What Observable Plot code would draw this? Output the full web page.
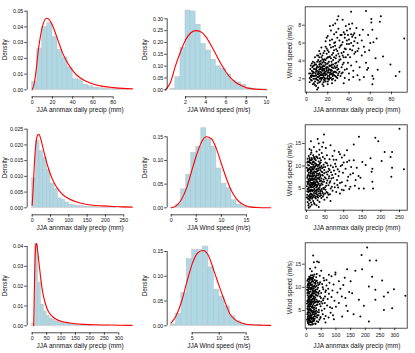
<!DOCTYPE html>
<html>
<head>
<meta charset="utf-8">
<script src="https://cdn.jsdelivr.net/npm/d3@7"></script>
<script src="https://cdn.jsdelivr.net/npm/@observablehq/plot@0.6"></script>
<style>
  html, body { margin: 0; padding: 0; background: #fff; }
  #chart { position: relative; width: 415px; height: 353px; overflow: hidden; }
  .panel { position: absolute; width: 138px; height: 118px; }
  .panel svg { overflow: visible; }
</style>
</head>
<body>
<div id="chart"></div>
<script>
// ---------------- Labels ----------------
const precipLabel = "JJA annmax daily precip (mm)";
const windLabel = "JJA Wind speed (m/s)";
const densityLabel = "Density";
const windAxisLabel = "Wind speed (m/s)";

// ---------------- Row 1 ----------------
const r1PrecipBinStart = 0, r1PrecipBinWidth = 5;
const r1PrecipDensity = [0.0049, 0.026, 0.0398, 0.0424, 0.0335, 0.0254, 0.0205, 0.0142, 0.0068, 0.0062, 0.0032, 0.0022, 0.0014, 0.0011, 0.0007, 0.0005, 0.0003, 0.0002, 0.0001];
const r1PrecipFitX = [0, 2, 4, 6, 8, 10, 12, 14, 16, 18, 20, 23, 26, 30, 35, 40, 45, 50, 55, 60, 70, 80, 90, 99];
const r1PrecipFitY = [0.0, 0.004, 0.013, 0.025, 0.0335, 0.040, 0.044, 0.0455, 0.0452, 0.0435, 0.041, 0.036, 0.0305, 0.0235, 0.017, 0.0122, 0.0088, 0.0065, 0.0049, 0.0037, 0.0022, 0.0014, 0.0009, 0.0006];
const r1PrecipXTicks = [0, 20, 40, 60, 80];
const r1PrecipYTicks = [0, 0.01, 0.02, 0.03, 0.04, 0.05];

const r1WindBinStart = 0.5, r1WindBinWidth = 0.5;
const r1WindDensity = [0.004, 0.0535, 0.176, 0.335, 0.331, 0.275, 0.194, 0.166, 0.127, 0.099, 0.089, 0.065, 0.039, 0.031, 0.021, 0.0085, 0.005, 0.003, 0.002];
const r1WindFitX = [0, 0.5, 1, 1.5, 2, 2.5, 3, 3.5, 4, 4.5, 5, 5.5, 6, 6.5, 7, 7.5, 8, 8.5, 9, 10];
const r1WindFitY = [0.0, 0.03, 0.10, 0.16, 0.21, 0.24, 0.25, 0.245, 0.225, 0.19, 0.15, 0.11, 0.075, 0.048, 0.03, 0.018, 0.009, 0.005, 0.002, 0.0];
const r1WindXTicks = [2, 4, 6, 8, 10];
const r1WindYTicks = [0, 0.05, 0.10, 0.15, 0.20, 0.25, 0.30];

const r1Scatter = [
  3,2.1, 4,2.6, 5,1.8, 5,2.9, 6,2.3, 6,3.4, 7,1.5, 7,2.7, 8,2.0, 8,3.1, 9,2.4, 9,1.2, 9,3.6, 10,2.9, 10,1.9,
  11,2.2, 11,3.3, 11,4.1, 12,1.6, 12,2.6, 12,3.0, 13,2.1, 13,3.7, 13,2.8, 14,1.9, 14,2.4, 14,3.3, 14,4.4, 15,2.9,
  15,1.4, 15,3.8, 16,2.2, 16,2.6, 16,3.5, 17,1.8, 17,3.1, 17,4.2, 18,2.5, 18,2.0, 18,3.6, 19,2.9, 19,4.8, 20,2.3,
  20,3.3, 20,1.7, 21,2.7, 21,3.9, 22,2.1, 22,3.0, 22,4.5, 23,2.5, 23,3.5, 24,1.9, 24,2.9, 25,3.2, 25,4.1, 26,2.4,
  26,5.2, 27,2.8, 27,3.7, 28,2.2, 28,4.6, 29,3.0, 30,2.6, 30,3.9, 31,5.5, 32,2.3, 32,4.2, 33,3.3, 34,2.7, 35,3.8,
  35,5.0, 36,2.1, 37,4.4, 38,3.1, 40,2.6, 40,5.9, 42,3.5, 44,2.9, 45,4.8,
  4.5,2.2, 5.5,3.3, 6.5,2.0, 7.5,3.8, 8.5,2.6, 9.5,3.2, 10.5,2.5, 10.5,1.5, 11.5,2.8, 12.5,3.4, 12.5,2.0, 13.5,2.5,
  13.5,4.0, 14.5,3.0, 15.5,2.4, 15.5,3.4, 16.5,2.9, 16.5,1.9, 17.5,2.4, 17.5,3.8, 18.5,3.2, 19.5,2.1, 19.5,3.7,
  20.5,2.9, 21.5,2.3, 21.5,3.5, 22.5,2.7, 23.5,3.9, 24.5,2.3, 25.5,2.7, 26.5,3.4, 27.5,4.3, 28.5,3.3, 29.5,2.4,
  3.5,3.1, 2.5,2.6, 4,1.9, 6,3.9, 8,4.4, 10,4.6, 12,5.1, 14,5.5, 16,4.9, 18,5.6, 20,5.2, 11,1.0, 8,1.3, 6,1.4,
  10,0.8, 16,1.2, 20,1.4, 24,1.5, 27,1.8,
  7,2.3, 9,2.8, 11,2.7, 13,3.2, 15,2.1, 17,2.7, 19,3.3, 21,2.0, 23,3.0, 25,2.5, 12,3.9, 16,4.1, 20,4.4, 24,3.6,
  3,1.6, 4,3.5, 5,2.4, 6,2.8, 7,3.1, 8,2.3, 8,3.6, 9,2.0, 9,3.0, 10,2.2, 10,3.4, 10,3.9, 11,2.5, 11,1.8, 12,2.3,
  12,3.6, 12,4.4, 13,1.7, 13,2.4, 13,3.1, 14,2.1, 14,2.7, 14,3.6, 15,2.5, 15,3.2, 15,4.2, 16,1.6, 16,3.1, 16,3.9,
  17,2.1, 17,3.4, 17,2.6, 18,1.7, 18,2.8, 18,4.1, 19,2.5, 19,3.1, 19,4.3, 20,2.0, 20,2.7, 20,3.7, 21,1.9, 21,3.1,
  21,4.4, 22,2.5, 22,3.4, 23,2.1, 23,2.9, 23,4.3, 24,2.6, 24,3.3, 24,4.7, 25,2.0, 25,3.6, 26,2.8, 26,4.4, 27,2.3,
  27,3.2, 28,2.7, 28,3.8, 29,2.1, 29,3.5, 30,3.1, 31,2.8, 31,4.1, 33,2.6, 34,3.6, 34,4.6, 36,3.0, 6,2.6, 7,3.5,
  5,3.7, 4,2.3, 8,1.7, 11,4.6, 13,4.8, 15,4.6, 17,5.1, 19,5.4, 21,5.0, 23,5.5, 25,4.9, 27,5.7, 29,5.1, 31,4.5,
  33,5.8, 35,4.4, 37,5.3, 39,3.8, 41,4.4, 43,5.2, 22,6.3, 26,6.0, 32,6.9, 19,6.6, 28,7.2, 36,7.0, 44,6.9, 48,5.1,
  38,6.3, 42,7.0,
  18,6.2, 20,6.8, 22,5.8, 23,7.4, 24,6.4, 25,5.6, 26,7.0, 27,6.1, 28,5.3, 29,6.6, 30,7.6, 30,4.8, 31,6.3, 32,5.7,
  33,6.9, 33,4.9, 34,6.1, 35,7.2, 36,5.4, 36,6.6, 37,7.9, 38,5.9, 39,4.7, 39,6.9, 40,6.4, 41,7.6, 41,5.3, 42,6.0,
  43,8.2, 43,6.7, 44,5.7, 45,7.1, 45,6.2, 46,5.0, 46,6.6, 47,7.7, 48,6.0, 49,5.4, 50,6.9, 52,6.3, 53,7.5, 54,5.6,
  34,8.6, 30,9.0, 27,8.2, 25,8.0, 38,7.4, 40,8.1, 22,7.9, 29,8.6,
  42,9.5, 56,9.6, 61,8.7, 61,8.3, 70,9.0, 69,8.4, 62,7.5, 58,6.9, 66,6.5, 63,6.1, 59,5.2, 65,4.3, 56,3.8, 57,3.0,
  62,2.3, 63,2.0, 62,1.4, 79,3.6, 87.5,2.8, 84,2.3, 92,6.5, 54,2.2, 50,3.3, 48,2.4, 52,4.6, 47,3.9, 44,2.2, 58,3.2,
  50,1.9, 35,1.5, 40,1.9, 55,5.0, 60,6.0, 72,4.5, 67,3.0
];
const r1ScatterXTicks = [0, 20, 40, 60, 80];
const r1ScatterYTicks = [2, 4, 6, 8];

// ---------------- Row 2 ----------------
const r2PrecipBinStart = 0, r2PrecipBinWidth = 10;
const r2PrecipDensity = [0.0093, 0.0212, 0.0181, 0.0160, 0.0120, 0.0077, 0.0059, 0.0030, 0.0026, 0.0017, 0.0010, 0.0008, 0.0006, 0.0005, 0.0004, 0.0003, 0.0002, 0.0002, 0.0001, 0.0001, 0.0001, 0.0001, 0.0001, 0.0, 0.0001, 0.0001];
const r2PrecipFitX = [0, 3, 6, 9, 12, 15, 18, 21, 25, 30, 35, 40, 50, 60, 70, 80, 90, 100, 120, 140, 160, 190, 220, 250, 273];
const r2PrecipFitY = [0.0008, 0.007, 0.014, 0.019, 0.022, 0.0232, 0.0234, 0.0228, 0.0212, 0.0188, 0.0164, 0.0142, 0.0106, 0.0079, 0.0060, 0.0046, 0.0036, 0.0029, 0.0019, 0.0013, 0.0009, 0.0006, 0.0004, 0.0003, 0.0002];
const r2PrecipXTicks = [0, 50, 100, 150, 200, 250];
const r2PrecipYTicks = [0, 0.005, 0.010, 0.015, 0.020, 0.025];

const r2WindBinStart = 1, r2WindBinWidth = 1;
const r2WindDensity = [0.007, 0.039, 0.070, 0.116, 0.129, 0.168, 0.145, 0.129, 0.083, 0.051, 0.041, 0.016, 0.007, 0.003, 0.002, 0.001, 0.0005];
const r2WindFitX = [0, 1, 2, 3, 4, 5, 6, 7, 8, 9, 10, 11, 12, 13, 14, 15, 16, 17, 18, 19.8];
const r2WindFitY = [0, 0.004, 0.017, 0.040, 0.075, 0.110, 0.138, 0.150, 0.146, 0.125, 0.093, 0.062, 0.036, 0.019, 0.009, 0.004, 0.0015, 0.0006, 0.0002, 0.0];
const r2WindXTicks = [0, 5, 10, 15];
const r2WindYTicks = [0, 0.05, 0.10, 0.15];

const r2Scatter = [
  3,2.0, 6,1.6, 9,2.4, 12,1.9, 15,2.7, 18,2.2, 22,1.5, 25,2.8, 30,2.4, 35,2.0, 40,2.9, 48,2.5, 55,3.0, 8,3.0, 4,2.7,
  2,3.6, 5,4.2, 7,3.4, 10,4.6, 13,3.8, 16,4.4, 19,3.3, 21,4.9, 24,3.9, 27,4.5, 31,3.5, 34,4.8, 38,3.9, 42,4.4, 46,3.6,
  51,4.7, 57,4.0, 63,3.7, 70,4.5, 80,4.2, 90,3.9, 11,3.2, 29,3.1, 44,3.2,
  1,5.5, 4,6.3, 6,5.2, 9,6.8, 11,5.7, 14,6.2, 17,5.3, 20,6.6, 23,5.8, 26,6.9, 28,5.4, 32,6.1, 36,5.6, 39,6.7, 43,5.9,
  47,6.5, 50,5.3, 54,6.2, 59,5.7, 64,6.6, 68,5.4, 75,6.1, 83,5.8, 95,6.4, 105,5.6, 7,6.0, 16,6.9, 30,6.4, 45,5.1,
  2,7.4, 5,8.1, 8,7.2, 10,8.6, 13,7.7, 15,8.4, 18,7.1, 21,8.0, 24,7.5, 27,8.7, 29,7.3, 33,8.2, 37,7.6, 40,8.8, 44,7.9,
  48,8.4, 52,7.2, 56,8.1, 61,7.7, 66,8.6, 72,7.4, 78,8.2, 86,7.8, 98,8.5, 112,7.6, 3,8.9, 12,9.0, 26,7.9, 35,7.0,
  1,9.6, 4,10.2, 7,9.3, 9,10.7, 12,9.8, 15,10.4, 17,9.5, 20,10.9, 23,9.9, 25,10.5, 28,9.4, 31,10.2, 35,9.7, 38,10.8,
  42,9.5, 46,10.3, 50,9.8, 55,10.6, 60,9.4, 65,10.1, 71,9.7, 77,10.5, 84,9.3, 92,10.0, 120,9.8, 6,10.9, 19,9.2, 33,11.0,
  3,11.6, 6,12.2, 9,11.4, 11,12.6, 14,11.8, 18,12.4, 22,11.5, 26,12.1, 30,11.7, 34,12.5, 39,11.3, 44,12.0, 49,11.6,
  55,12.4, 62,11.5, 70,12.2, 80,11.4, 95,11.9, 13,13.0, 27,13.2, 41,12.9,
  8,13.8, 20,14.2, 35,13.6, 52,14.0, 75,13.4, 30,16.0, 45,15.2, 12,15.5,
  5,1.2, 10,1.0, 14,1.4, 20,1.8, 27,1.3,
  5,5.0, 8,4.5, 10,7.8, 13,9.0, 15,5.9, 18,9.9, 20,4.0, 22,7.2, 24,10.0, 26,5.2, 28,8.3, 30,9.9, 32,5.0, 34,7.4,
  36,10.6, 38,4.6, 40,6.1, 16,3.6, 3,4.9, 7,11.0, 11,3.9, 19,7.8, 25,6.4, 31,7.9, 37,9.1, 43,8.6, 21,11.8, 14,7.0,
  9,5.8, 4,9.3, 2,6.5, 17,10.8, 27,4.1, 23,3.0, 36,3.3, 48,9.1, 53,5.6, 58,8.8, 62,6.3, 67,7.2, 74,9.0, 82,6.9,
  88,8.8, 100,10.8, 110,6.8, 125,8.4, 135,9.6, 140,7.8, 102,12.4, 115,11.2, 90,12.6, 85,5.2, 95,4.7, 115,4.9, 130,5.6,
  1,3.0, 2,4.4, 3,6.0, 3,7.8, 2,10.8, 4,11.0, 5,3.2, 5,7.0, 5,9.1, 6,4.8, 6,6.6, 6,8.5, 7,2.5, 7,4.4, 7,7.9, 7,10.1,
  8,5.6, 8,9.5, 8,11.8, 9,3.6, 9,7.6, 10,2.9, 10,5.2, 10,6.4, 10,9.2, 10,11.2, 11,4.4, 11,7.1, 11,8.3, 12,3.1, 12,5.5,
  12,6.9, 12,10.6, 13,4.7, 13,6.1, 13,8.8, 13,11.3, 14,3.3, 14,5.3, 14,9.6, 15,4.6, 15,7.3, 15,11.5, 16,5.7, 16,8.0,
  16,9.2, 17,3.0, 17,6.3, 17,7.6, 18,4.6, 18,5.9, 18,8.6, 18,11.0, 19,6.1, 19,10.3, 20,3.5, 20,5.4, 20,8.4, 20,12.0,
  21,6.2, 21,9.6, 22,4.4, 22,5.6, 22,8.8, 23,7.0, 23,10.6, 24,4.5, 24,6.0, 24,8.6, 25,3.3, 25,7.6, 25,11.3, 26,4.6,
  26,9.3, 27,5.8, 27,10.2, 28,3.7, 28,6.6, 28,12.0, 29,4.8, 29,8.9, 30,5.7, 30,7.2, 31,3.0, 31,9.0, 32,4.4, 32,7.2,
  33,6.0, 33,9.4, 34,3.9, 34,10.3, 35,5.2, 35,8.4, 36,6.6, 36,11.7, 37,4.3, 37,8.0, 38,5.7, 38,9.6, 39,3.5, 40,7.2,
  40,10.0, 41,4.9, 42,8.0, 43,6.5, 44,4.0, 45,9.7, 46,7.0, 47,4.9, 49,7.5, 50,3.9, 51,10.8, 53,8.6, 54,4.2, 56,6.8,
  57,10.1, 59,3.6, 60,7.3, 62,9.1, 65,5.0, 69,8.0, 73,11.4, 76,5.3, 79,9.9, 90,6.2,
  250,18.3, 262,9.3, 210,13.1, 230,13.1, 226,12.0, 230,9.6, 228,7.6, 202,11.1, 185,16.3, 193,15.5, 172,11.7,
  177,9.4, 175,8.7, 177,6.5, 179,5.0, 141,16.5, 127,14.8, 109,13.5, 47,17.0, 33,15.0, 13,13.5, 22,11.7, 42,14.3,
  64.5,14.6, 87,13.1, 105,9.4, 118,8.1, 132,6.9, 141,5.0, 154,5.0, 145,7.4, 118,5.4, 100,4.6, 109,10.9, 150,10.9,
  159,10.2, 127,11.3, 96,10.2, 64.5,2.2, 33,0.9, 6,0.7
];
const r2ScatterXTicks = [0, 50, 100, 150, 200, 250];
const r2ScatterYTicks = [5, 10, 15];

// ---------------- Row 3 ----------------
const r3PrecipBinStart = 0, r3PrecipBinWidth = 10;
const r3PrecipDensity = [0.001, 0.0413, 0.0218, 0.0106, 0.0072, 0.005, 0.0037, 0.003, 0.0022, 0.0018, 0.002, 0.0013, 0.0013, 0.001, 0.0008, 0.0005, 0.0004, 0.0003, 0.0002, 0.0002, 0.0001, 0.0001, 0.0001, 0.0001, 0.0001, 0.0001, 0.0001, 0.0, 0.0, 0.0001, 0.0, 0.0, 0.0001];
const r3PrecipFitX = [5, 6, 8, 10, 12, 14, 16, 18, 20, 24, 28, 32, 36, 40, 46, 52, 60, 70, 85, 100, 125, 150, 180, 220, 260, 300, 346];
const r3PrecipFitY = [0, 0.006, 0.022, 0.034, 0.040, 0.0415, 0.041, 0.039, 0.0365, 0.031, 0.026, 0.021, 0.0172, 0.0143, 0.011, 0.0085, 0.0063, 0.0047, 0.0032, 0.0023, 0.0015, 0.0010, 0.0007, 0.0005, 0.0004, 0.0003, 0.0002];
const r3PrecipXTicks = [0, 50, 100, 150, 200, 250, 300];
const r3PrecipYTicks = [0, 0.01, 0.02, 0.03, 0.04];

const r3WindBinStart = 1, r3WindBinWidth = 1;
const r3WindDensity = [0.003, 0.024, 0.066, 0.135, 0.153, 0.153, 0.160, 0.118, 0.073, 0.059, 0.039, 0.019, 0.009, 0.004, 0.002, 0.001, 0.001, 0.0005];
const r3WindFitX = [1.1, 2, 3, 4, 5, 6, 7, 8, 9, 10, 11, 12, 13, 14, 15, 16, 17, 18, 19.5];
const r3WindFitY = [0.006, 0.02, 0.048, 0.088, 0.125, 0.147, 0.152, 0.142, 0.112, 0.080, 0.050, 0.024, 0.012, 0.006, 0.003, 0.002, 0.0015, 0.001, 0.0008];
const r3WindXTicks = [5, 10, 15];
const r3WindYTicks = [0, 0.05, 0.10, 0.15];

const r3Scatter = [
  5,2.3, 8,2.0, 11,2.6, 14,1.9, 18,2.4, 22,2.1, 26,2.8, 30,2.2, 35,2.7, 40,2.5,
  4,3.4, 7,3.9, 10,3.1, 13,4.4, 16,3.6, 19,4.1, 22,3.3, 25,4.6, 28,3.8, 32,4.3, 36,3.5, 41,4.0, 47,3.4, 55,4.2, 65,3.8,
  3,5.4, 6,4.9, 9,6.1, 12,5.3, 15,6.6, 17,5.0, 20,5.8, 23,6.4, 26,5.2, 29,6.0, 33,5.5, 37,6.3, 42,5.1, 48,5.9, 54,6.5,
  61,5.4, 70,6.1, 80,5.7,
  4,7.2, 7,6.8, 10,7.6, 13,7.0, 16,7.9, 18,6.9, 21,7.5, 24,8.1, 27,7.1, 30,7.8, 34,7.3, 38,8.2, 43,7.0, 49,7.7, 56,7.2,
  63,8.0, 72,7.5, 85,7.9, 95,7.1,
  3,8.8, 6,9.4, 9,8.6, 11,9.9, 14,9.1, 17,8.5, 19,9.7, 22,9.0, 25,9.8, 28,8.7, 31,9.5, 35,8.9, 39,9.9, 44,9.2, 50,8.8,
  57,9.6, 64,9.0, 74,9.7, 88,9.3, 105,8.9,
  5,10.6, 8,11.2, 11,10.4, 14,11.0, 16,11.7, 19,10.6, 22,11.3, 25,10.2, 28,11.6, 31,10.8, 35,11.4, 40,10.5, 46,11.1,
  53,10.7, 60,11.5, 68,10.4, 78,11.0, 92,10.6, 110,11.3,
  9,12.3, 15,12.6, 21,12.1, 27,12.8, 33,12.2, 45,12.5, 58,12.0, 18,13.5, 12,14.0, 30,14.3, 50,13.6, 25,15.4,
  6,3.0, 9,4.6, 12,3.5, 15,5.1, 18,3.1, 20,6.9, 23,4.9, 26,7.9, 29,4.8, 32,9.0, 7,8.0, 10,5.5, 13,8.3, 16,9.6, 19,5.6,
  22,10.2, 24,3.6, 27,6.7, 30,10.1, 33,6.9, 36,4.7, 8,10.0, 11,6.6, 14,4.0, 17,7.3, 20,8.8, 23,2.8, 26,11.0, 29,9.2,
  34,10.3, 38,7.0, 41,8.6, 45,6.4, 52,5.0, 58,7.6, 66,9.3, 76,8.6, 82,4.5, 100,5.8, 115,9.7, 125,10.5, 135,6.0,
  145,9.0, 130,12.1, 150,11.3, 160,4.2, 120,8.0, 140,4.9, 85,12.4, 98,12.8, 6,6.0, 4,4.5, 3,10.0, 5,11.7, 9,2.9,
  12,12.0, 16,2.6, 21,12.6, 19,2.0, 24,12.4, 35,12.9, 44,3.0, 60,3.2, 75,3.5, 90,4.0,
  2,3.0, 2,6.5, 2,9.5, 3,4.2, 3,7.0, 3,11.4, 4,2.6, 4,5.8, 4,8.3, 4,10.4, 5,3.7, 5,6.9, 5,9.0, 6,2.4, 6,5.2, 6,7.7,
  6,10.9, 7,4.5, 7,6.3, 7,9.7, 7,11.8, 8,3.3, 8,5.8, 8,7.4, 8,8.9, 9,4.0, 9,7.1, 9,10.4, 9,11.9, 10,2.4, 10,6.6,
  10,9.0, 10,10.9, 11,3.8, 11,5.1, 11,8.0, 11,11.6, 12,2.8, 12,6.4, 12,7.9, 12,9.6, 13,3.3, 13,5.9, 13,10.7, 14,2.5,
  14,6.3, 14,8.0, 14,12.2, 15,3.9, 15,7.4, 15,9.8, 16,4.8, 16,6.4, 16,10.5, 17,3.4, 17,5.8, 17,9.9, 17,12.0, 18,4.9,
  18,8.2, 18,11.2, 19,3.4, 19,7.0, 19,8.3, 20,4.5, 20,10.2, 20,11.6, 21,2.6, 21,6.0, 21,9.3, 22,4.2, 22,7.6, 22,11.9,
  23,5.6, 23,8.6, 24,6.9, 24,9.4, 25,3.1, 25,7.6, 26,4.2, 26,9.1, 27,5.6, 27,10.4, 28,3.2, 28,7.5, 29,11.0, 30,4.4,
  30,6.8, 31,8.4, 32,3.7, 32,11.3, 33,5.0, 34,8.3, 35,6.2, 36,9.6, 37,4.0, 38,11.0, 39,6.8, 40,8.9, 42,4.6, 44,10.7,
  46,8.0, 48,3.6, 50,6.9, 55,10.0, 62,6.6, 68,11.6,
  206,18.6, 187,17.0, 215,15.8, 237,15.8, 22.6,16.9, 36,15.6, 42,15.4, 166,13.6, 189,13.9, 138,13.9, 98.5,13.2,
  76,12.7, 297,9.6, 336,8.2, 277,8.9, 263,8.0, 234,7.3, 212,10.2, 234,9.5, 257,11.5, 223,12.3, 291,5.5, 263,5.1,
  212,2.6, 183,3.7, 195,6.0, 178,7.3, 155,8.7, 132,7.7, 110,6.6, 87,5.5, 121,3.7, 93,3.1, 64.5,2.4, 30.5,2.1
];
const r3ScatterXTicks = [0, 50, 100, 150, 200, 250, 300];
const r3ScatterYTicks = [5, 10, 15];

// ---------------- Drawing ----------------
const FONT = "'Liberation Sans', Arial, Helvetica, sans-serif";
const W = 138, H = 118;
const chart = document.getElementById("chart");

function place(node, left, top) {
  const div = document.createElement("div");
  div.className = "panel";
  div.style.left = left + "px";
  div.style.top = top + "px";
  div.appendChild(node);
  chart.appendChild(div);
}

function histPanel(o) {
  const bars = o.density.map((d, i) => ({x1: o.binStart + i * o.binWidth, x2: o.binStart + (i + 1) * o.binWidth, y: d}));
  const fit = o.fitX.map((x, i) => ({x, y: o.fitY[i]}));
  const axisBottom = 96.3, axisLeft = 26.7;
  return Plot.plot({
    width: W, height: H,
    marginLeft: axisLeft, marginRight: 5.4, marginTop: 2.3, marginBottom: H - axisBottom,
    x: {domain: o.xDomain, range: o.xRange},
    y: {domain: o.yDomain, range: o.yRange},
    style: {fontFamily: FONT, background: "transparent", overflow: "visible"},
    marks: [
      Plot.rectY(bars, {x1: "x1", x2: "x2", y: "y", fill: "#add8e6", stroke: "#bdbdbd", strokeWidth: 0.5}),
      Plot.line(fit, {x: "x", y: "y", stroke: "#ff0000", strokeWidth: 1.1, curve: "monotone-x"}),
      Plot.ruleY([{y: o.yDomain[0], x1: o.xTicks[0], x2: o.xTicks[o.xTicks.length - 1]}],
        {y: "y", x1: "x1", x2: "x2", dy: axisBottom - o.yRange[0], stroke: "#222", strokeWidth: 0.8}),
      Plot.ruleX([{x: o.xDomain[0], y1: o.yTicks[0], y2: o.yTicks[o.yTicks.length - 1]}],
        {x: "x", y1: "y1", y2: "y2", dx: axisLeft - o.xRange[0], stroke: "#222", strokeWidth: 0.8}),
      Plot.axisX({ticks: o.xTicks, tickFormat: d3.format("d"), tickSize: 2.4, tickPadding: 1.1, fontSize: 5.3, label: null, color: "#111", strokeWidth: 0.8}),
      Plot.axisY({ticks: o.yTicks, tickFormat: d3.format(o.yFormat), tickSize: 2.4, tickPadding: 1.5, fontSize: 5.3, label: null, color: "#111", strokeWidth: 0.8}),
      Plot.text([densityLabel], {text: d => d, frameAnchor: "left", textAnchor: "middle", lineAnchor: "middle", rotate: -90, dx: 4.3 - axisLeft, fontSize: 6.3, fill: "#111"}),
      Plot.text([o.xLabel], {text: d => d, frameAnchor: "bottom", textAnchor: "middle", lineAnchor: "middle", dy: 13, dx: o.labelDx, fontSize: 6.5, fill: "#111"})
    ]
  });
}

function scatterPanel(o) {
  const pts = [];
  for (let i = 0; i < o.points.length; i += 2) pts.push({x: o.points[i], y: o.points[i + 1]});
  return Plot.plot({
    width: W, height: H,
    marginLeft: 29.7, marginRight: 6.3, marginTop: 6.3, marginBottom: 26.3,
    x: {domain: o.xDomain, range: o.xRange},
    y: {domain: o.yDomain, range: o.yRange},
    style: {fontFamily: FONT, background: "transparent", overflow: "visible"},
    marks: [
      Plot.frame({stroke: "#222", strokeWidth: 0.8}),
      Plot.dot(pts, {x: "x", y: "y", r: 1.0, fill: "#000"}),
      Plot.axisX({ticks: o.xTicks, tickFormat: d3.format("d"), tickSize: 2.5, tickPadding: 3, fontSize: 5.3, label: null, color: "#111", strokeWidth: 0.8}),
      Plot.axisY({ticks: o.yTicks, tickFormat: d3.format("d"), tickSize: 2.5, tickPadding: 1.5, fontSize: 5.3, label: null, color: "#111", strokeWidth: 0.8}),
      Plot.text([windAxisLabel], {text: d => d, frameAnchor: "left", textAnchor: "middle", lineAnchor: "middle", rotate: -90, dx: -15.7, dy: 2, fontSize: 6.8, fill: "#111"}),
      Plot.text([precipLabel], {text: d => d, frameAnchor: "bottom", textAnchor: "middle", lineAnchor: "middle", dy: 17.6, dx: 0.6, fontSize: 6.5, fill: "#111"})
    ]
  });
}

// Row 1
place(histPanel({binStart: r1PrecipBinStart, binWidth: r1PrecipBinWidth, density: r1PrecipDensity, fitX: r1PrecipFitX, fitY: r1PrecipFitY,
  xDomain: [0, 80], xRange: [31.7, 112.7], yDomain: [0, 0.05], yRange: [89.3, 10.7],
  xTicks: r1PrecipXTicks, yTicks: r1PrecipYTicks, yFormat: ".2f", xLabel: precipLabel, labelDx: 0}), 0, 0);
place(histPanel({binStart: r1WindBinStart, binWidth: r1WindBinWidth, density: r1WindDensity, fitX: r1WindFitX, fitY: r1WindFitY,
  xDomain: [2, 10], xRange: [45, 126], yDomain: [0, 0.30], yRange: [89.3, 18.3],
  xTicks: r1WindXTicks, yTicks: r1WindYTicks, yFormat: ".2f", xLabel: windLabel, labelDx: -1.3}), 140, 0);
place(scatterPanel({points: r1Scatter, xDomain: [0, 80], xRange: [31, 116], yDomain: [2, 8], yRange: [78.3, 24.7],
  xTicks: r1ScatterXTicks, yTicks: r1ScatterYTicks}), 275, 0);

// Row 2
place(histPanel({binStart: r2PrecipBinStart, binWidth: r2PrecipBinWidth, density: r2PrecipDensity, fitX: r2PrecipFitX, fitY: r2PrecipFitY,
  xDomain: [0, 250], xRange: [31.7, 123.3], yDomain: [0, 0.025], yRange: [89.3, 10.7],
  xTicks: r2PrecipXTicks, yTicks: r2PrecipYTicks, yFormat: ".3f", xLabel: precipLabel, labelDx: 0}), 0, 118);
place(histPanel({binStart: r2WindBinStart, binWidth: r2WindBinWidth, density: r2WindDensity, fitX: r2WindFitX, fitY: r2WindFitY,
  xDomain: [0, 15], xRange: [30.7, 106], yDomain: [0, 0.15], yRange: [89.3, 18.3],
  xTicks: r2WindXTicks, yTicks: r2WindYTicks, yFormat: ".2f", xLabel: windLabel, labelDx: -1.3}), 140, 118);
place(scatterPanel({points: r2Scatter, xDomain: [0, 250], xRange: [31, 124], yDomain: [5, 15], yRange: [70, 25],
  xTicks: r2ScatterXTicks, yTicks: r2ScatterYTicks}), 275, 118);

// Row 3
place(histPanel({binStart: r3PrecipBinStart, binWidth: r3PrecipBinWidth, density: r3PrecipDensity, fitX: r3PrecipFitX, fitY: r3PrecipFitY,
  xDomain: [0, 300], xRange: [31.7, 118.3], yDomain: [0, 0.04], yRange: [89.3, 10],
  xTicks: r3PrecipXTicks, yTicks: r3PrecipYTicks, yFormat: ".2f", xLabel: precipLabel, labelDx: 0}), 0, 236);
place(histPanel({binStart: r3WindBinStart, binWidth: r3WindBinWidth, density: r3WindDensity, fitX: r3WindFitX, fitY: r3WindFitY,
  xDomain: [5, 15], xRange: [51.7, 105.7], yDomain: [0, 0.15], yRange: [89.3, 15],
  xTicks: r3WindXTicks, yTicks: r3WindYTicks, yFormat: ".2f", xLabel: windLabel, labelDx: -1.3}), 140, 236);
place(scatterPanel({points: r3Scatter, xDomain: [0, 300], xRange: [31, 119.3], yDomain: [5, 15], yRange: [74, 27.7],
  xTicks: r3ScatterXTicks, yTicks: r3ScatterYTicks}), 275, 236);
</script>
</body>
</html>
